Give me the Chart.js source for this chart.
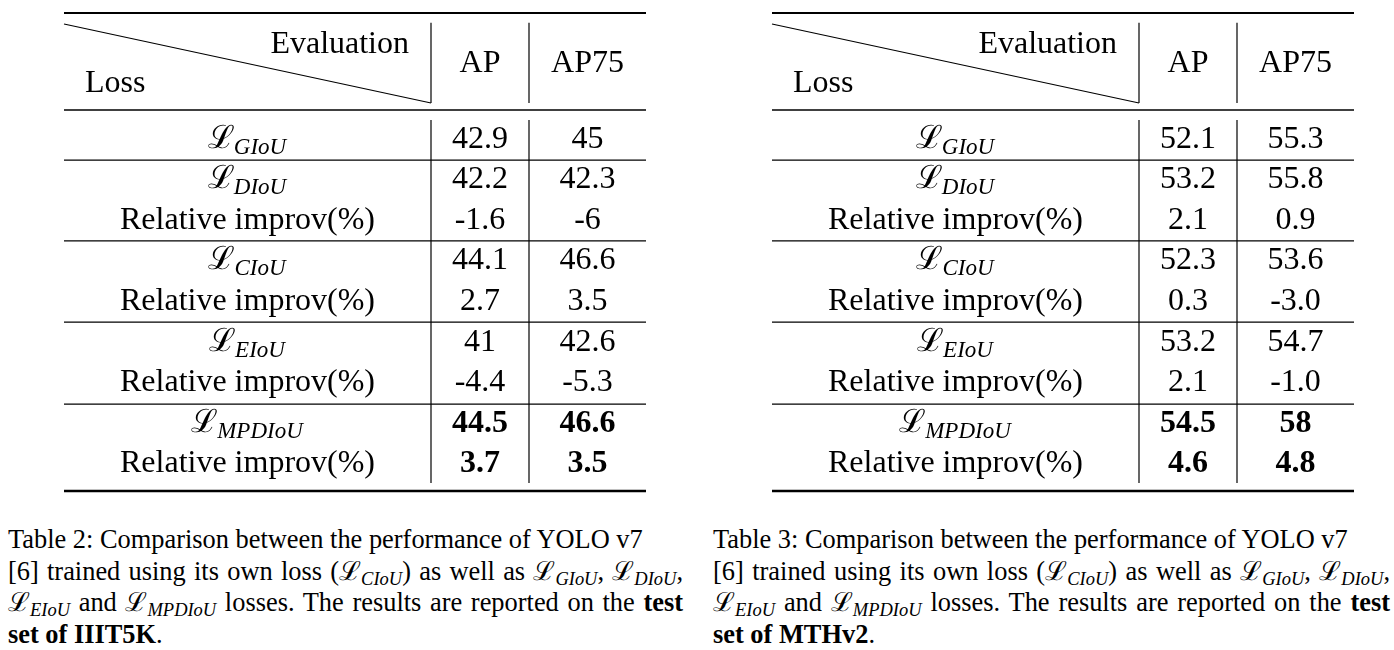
<!DOCTYPE html>
<html>
<head>
<meta charset="utf-8">
<script src="https://cdn.jsdelivr.net/npm/chart.js@4.4.0/dist/chart.umd.min.js"></script>
<style>
  html, body { margin: 0; padding: 0; background: #fff; }
  body { position: relative; width: 1394px; height: 650px; overflow: hidden; }
  canvas { position: absolute; top: 0; }
  .caption {
    position: absolute; top: 524px;
    font-family: "Liberation Serif", "DejaVu Serif", serif;
    font-size: 26.4px; line-height: 31.7px; color: #000;
  }
  .caption .line { white-space: nowrap; }
  .caption .just { text-align: justify; text-align-last: justify; white-space: normal; }
  .m sub { font-style: italic; font-size: 0.7em; vertical-align: -0.28em; line-height: 0; }
  .preload { position: absolute; left: -9999px; font-family: "Liberation Serif"; }
</style>
</head>
<body>
<canvas id="table2" width="700" height="500" style="left:0"></canvas>
<canvas id="table3" width="700" height="500" style="left:708px"></canvas>
<div class="preload">Aa <b>Aa</b> <i>Aa</i></div>

<div class="caption" style="left:8px; width:675px">
  <div class="line">Table 2: Comparison between the performance of YOLO v7</div>
  <div class="just">[6] trained using its own loss (<span class="m">ℒ<sub>CIoU</sub></span>) as well as <span class="m">ℒ<sub>GIoU</sub></span>, <span class="m">ℒ<sub>DIoU</sub></span>,</div>
  <div class="just"><span class="m">ℒ<sub>EIoU</sub></span> and <span class="m">ℒ<sub>MPDIoU</sub></span> losses. The results are reported on the <b>test</b></div>
  <div class="line"><b>set of IIIT5K</b>.</div>
</div>
<div class="caption" style="left:713px; width:677px">
  <div class="line">Table 3: Comparison between the performance of YOLO v7</div>
  <div class="just">[6] trained using its own loss (<span class="m">ℒ<sub>CIoU</sub></span>) as well as <span class="m">ℒ<sub>GIoU</sub></span>, <span class="m">ℒ<sub>DIoU</sub></span>,</div>
  <div class="just"><span class="m">ℒ<sub>EIoU</sub></span> and <span class="m">ℒ<sub>MPDIoU</sub></span> losses. The results are reported on the <b>test</b></div>
  <div class="line"><b>set of MTHv2</b>.</div>
</div>

<script>
// Table content
const columns = ['Loss', 'AP', 'AP75'];
const headerCorner = 'Evaluation';
// a loss name is drawn as script L + italic subscript, 'rel' is the improvement row
const rowLabels = ['GIoU', 'DIoU', 'rel', 'CIoU', 'rel', 'EIoU', 'rel', 'MPDIoU', 'rel'];
const relLabel = 'Relative improv(%)';
const boldRows = [7, 8];

// Table 2 - test set of IIIT5K
const iiit5kAP   = ['42.9', '42.2', '-1.6', '44.1', '2.7', '41',   '-4.4', '44.5', '3.7'];
const iiit5kAP75 = ['45',   '42.3', '-6',   '46.6', '3.5', '42.6', '-5.3', '46.6', '3.5'];

// Table 3 - test set of MTHv2
const mthv2AP   = ['52.1', '53.2', '2.1', '52.3', '0.3',  '53.2', '2.1',  '54.5', '4.6'];
const mthv2AP75 = ['55.3', '55.8', '0.9', '53.6', '-3.0', '54.7', '-1.0', '58',   '4.8'];

// Layout (x in canvas px units, y in row units)
const TABLE_LEFT = 64;
const COL_WIDTHS = [367, 98, 117];
const ROW_PX = 40.6;
const FIRST_ROW_PX = 137;
const GROUP_RULES = [0.57, 2.56, 4.56, 6.58];
const HDR = {
  top: -3.054, diagTop: -2.783, diagBottom: -0.837, rule: -0.665,
  bodyTop: -0.42, bodyBottom: 8.52, bottom: 8.72,
  evaluation: -2.34, loss: -1.38, cols: -1.85
};
const FONT = '"Liberation Serif", "Times New Roman", "DejaVu Serif", serif';
const FONT_SIZE = 32;
const SUB_SIZE = 23;

const colEdges = [TABLE_LEFT];
COL_WIDTHS.forEach(w => colEdges.push(colEdges[colEdges.length - 1] + w));
const colCenter = i => (colEdges[i] + colEdges[i + 1]) / 2;

function drawLoss(ctx, name, cx, y) {
    ctx.font = `${FONT_SIZE}px ${FONT}`;
    const wL = ctx.measureText('ℒ').width;
    ctx.font = `italic ${SUB_SIZE}px ${FONT}`;
    const wS = ctx.measureText(name).width;
    const x0 = cx - (wL + wS) / 2;
    ctx.textAlign = 'left';
    ctx.font = `${FONT_SIZE}px ${FONT}`;
    ctx.fillText('ℒ', x0, y);
    ctx.font = `italic ${SUB_SIZE}px ${FONT}`;
    ctx.fillText(name, x0 + wL - 1, y + 6);
}

const tablePlugin = {
    id: 'tablePlugin',
    beforeDatasetsDraw(chart) {
        const { ctx, scales: { x, y } } = chart;
        const left = x.getPixelForValue(colEdges[0]);
        const right = x.getPixelForValue(colEdges[3]);
        const hline = (v, w) => {
            const py = y.getPixelForValue(v);
            ctx.lineWidth = w;
            ctx.beginPath(); ctx.moveTo(left, py); ctx.lineTo(right, py); ctx.stroke();
        };
        const vline = (cx, a, b) => {
            const px = x.getPixelForValue(cx);
            ctx.beginPath();
            ctx.moveTo(px, y.getPixelForValue(a));
            ctx.lineTo(px, y.getPixelForValue(b));
            ctx.stroke();
        };
        ctx.save();
        ctx.strokeStyle = '#000';
        hline(HDR.top, 2.2);
        hline(HDR.rule, 1.3);
        GROUP_RULES.forEach(r => hline(r, 1.3));
        hline(HDR.bottom, 2.4);

        ctx.lineWidth = 1.2;
        // diagonal header cell
        ctx.beginPath();
        ctx.moveTo(left, y.getPixelForValue(HDR.diagTop));
        ctx.lineTo(x.getPixelForValue(colEdges[1]), y.getPixelForValue(HDR.diagBottom));
        ctx.stroke();
        [1, 2].forEach(i => {
            vline(colEdges[i], HDR.diagTop - 0.03, HDR.diagBottom);
            vline(colEdges[i], HDR.bodyTop, HDR.bodyBottom);
        });

        // header labels
        const off = FONT_SIZE * 0.33;
        ctx.fillStyle = '#000';
        ctx.font = `${FONT_SIZE}px ${FONT}`;
        ctx.textAlign = 'right';
        ctx.fillText(headerCorner, x.getPixelForValue(colEdges[1] - 22), y.getPixelForValue(HDR.evaluation) + off);
        ctx.textAlign = 'left';
        ctx.fillText(columns[0], x.getPixelForValue(colEdges[0] + 21), y.getPixelForValue(HDR.loss) + off);
        ctx.textAlign = 'center';
        ctx.fillText(columns[1], x.getPixelForValue(colCenter(1)), y.getPixelForValue(HDR.cols) + off);
        ctx.fillText(columns[2], x.getPixelForValue(colCenter(2)), y.getPixelForValue(HDR.cols) + off);
        ctx.restore();
    },
    afterDatasetsDraw(chart) {
        const { ctx } = chart;
        const off = FONT_SIZE * 0.33;
        ctx.save();
        ctx.fillStyle = '#000';
        ctx.textBaseline = 'alphabetic';
        chart.data.datasets.forEach((ds, di) => {
            chart.getDatasetMeta(di).data.forEach((el, i) => {
                const cell = ds.data[i];
                const bold = boldRows.includes(i);
                const by = el.y + off;
                if (di === 0) {
                    if (cell.label === 'rel') {
                        ctx.font = `${FONT_SIZE}px ${FONT}`;
                        ctx.textAlign = 'center';
                        ctx.fillText(relLabel, el.x, by);
                    } else {
                        drawLoss(ctx, cell.label, el.x, by);
                    }
                } else {
                    ctx.font = `${bold ? 'bold ' : ''}${FONT_SIZE}px ${FONT}`;
                    ctx.textAlign = 'center';
                    ctx.fillText(cell.label, el.x, by);
                }
            });
        });
        ctx.restore();
    }
};

function makeTable(canvasId, apValues, ap75Values) {
    const canvas = document.getElementById(canvasId);
    const h = canvas.height;
    const cols = [rowLabels, apValues, ap75Values];
    new Chart(canvas.getContext('2d'), {
        type: 'scatter',
        data: {
            datasets: cols.map((values, c) => ({
                label: columns[c],
                data: values.map((v, i) => ({ x: colCenter(c), y: i, label: v })),
                pointRadius: 0,
                showLine: false
            }))
        },
        options: {
            responsive: false,
            animation: false,
            devicePixelRatio: 1,
            layout: { padding: 0 },
            scales: {
                x: { type: 'linear', min: 0, max: canvas.width, display: false },
                y: {
                    type: 'linear', reverse: true, display: false,
                    min: -FIRST_ROW_PX / ROW_PX,
                    max: (h - FIRST_ROW_PX) / ROW_PX
                }
            },
            plugins: { legend: { display: false }, tooltip: { enabled: false } }
        },
        plugins: [tablePlugin]
    });
}

// make sure the serif faces are ready before the canvas text is drawn
Promise.all([
    document.fonts.load(`${FONT_SIZE}px "Liberation Serif"`),
    document.fonts.load(`bold ${FONT_SIZE}px "Liberation Serif"`),
    document.fonts.load(`italic ${SUB_SIZE}px "Liberation Serif"`)
]).catch(() => {}).then(() => {
    makeTable('table2', iiit5kAP, iiit5kAP75);
    makeTable('table3', mthv2AP, mthv2AP75);
});
</script>
</body>
</html>
